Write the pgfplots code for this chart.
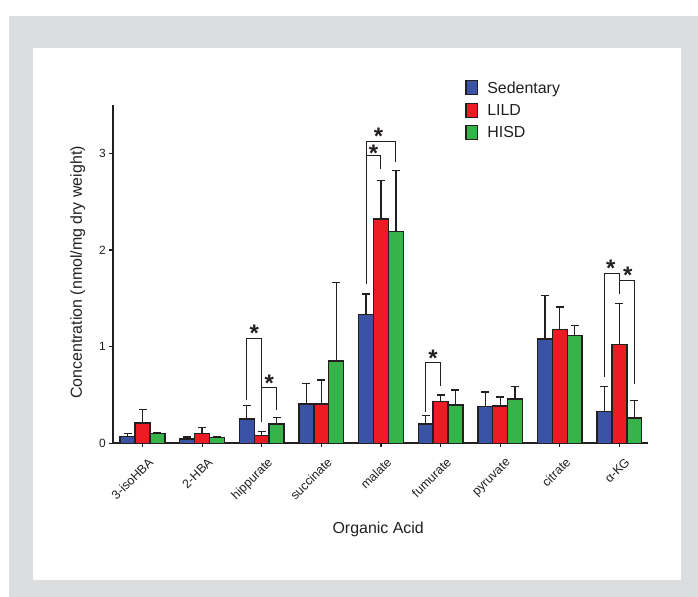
\documentclass[border=0pt]{standalone}
\usepackage{fontspec}
\setmainfont{Liberation Sans}
\usepackage{pgfplots}
\pgfplotsset{compat=1.18}
\usepackage{pgfplotstable}

\definecolor{sedblue}{HTML}{3A53A4}
\definecolor{lildred}{HTML}{ED1C24}
\definecolor{hisdgreen}{HTML}{36B44A}
\definecolor{framegray}{HTML}{DCDDDF}
\definecolor{ink}{HTML}{231F20}

\pgfplotstableread{
x sed sedE lild lildE hisd hisdE
0 0.070 0.030 0.210 0.140 0.100 0.012
1 0.045 0.020 0.100 0.060 0.058 0.008
2 0.250 0.140 0.080 0.040 0.200 0.070
3 0.407 0.213 0.407 0.248 0.851 0.810
4 1.330 0.215 2.320 0.400 2.190 0.630
5 0.200 0.090 0.430 0.070 0.395 0.155
6 0.380 0.150 0.385 0.095 0.460 0.125
7 1.080 0.447 1.175 0.235 1.113 0.103
8 0.330 0.260 1.020 0.425 0.260 0.180
}\data

\begin{document}
\begin{tikzpicture}
\useasboundingbox (0bp,0bp) rectangle (698bp,597bp);
\fill[framegray] (9bp,0bp) rectangle (698bp,581bp);
\fill[white] (33bp,17bp) rectangle (681bp,549bp);
\begin{axis}[
  at={(112.7bp,153.7bp)}, anchor=south west,
  scale only axis, width=535.3bp, height=338.3bp,
  xmin=-0.5, xmax=8.48, ymin=0, ymax=3.5,
  axis x line*=bottom, axis y line*=left,
  axis line style={line width=1.6bp, ink},
  ybar=0pt, bar width=14.9bp,
  legend image code/.code={\draw[#1, line width=1.3bp] (0bp,-6.7bp) rectangle (11.6bp,7.3bp);},
  xtick={0,...,8},
  xticklabels={3-isoHBA, 2-HBA, hippurate, succinate, malate, fumurate, pyruvate, citrate, α-KG},
  ytick={0,1,2,3},
  tick style={line width=1.2bp, ink}, major tick length=3.5bp, tick align=outside,
  /pgf/number format/assume math mode=true,
  xticklabel style={xshift=5bp, yshift=-10bp, rotate=45, anchor=north east, font=\fontsize{12.5}{12.5}\selectfont, text=ink, inner sep=0bp},
  yticklabel style={font=\fontsize{12}{12}\selectfont, text=ink},
  xlabel={Organic Acid}, ylabel={Concentration (nmol/mg dry weight)},
  label style={font=\fontsize{16}{16}\selectfont, text=ink},
  xlabel style={at={(axis description cs:0.496,0)}, anchor=center, yshift=-86bp},
  ylabel style={at={(axis description cs:0,0.505)}, anchor=center, yshift=35bp},
  legend style={at={(axis cs:5.417,3.758)}, anchor=north west, draw=none, fill=none,
    font=\fontsize{16}{16}\selectfont, text=ink, inner sep=0pt, outer sep=0pt,
    nodes={inner sep=1bp}, row sep=7bp,
    /tikz/every odd column/.append style={column sep=8bp}},
  legend cell align=left,
  clip=false,
]
\addplot[fill=sedblue, draw=ink, line width=1.4bp,
  error bars/.cd, y dir=plus, y explicit,
  error bar style={line width=1.3bp, ink},
  error mark options={rotate=90, line width=1.3bp, ink, mark size=4bp}]
  table[x=x, y=sed, y error=sedE] {\data};
\addplot[fill=lildred, draw=ink, line width=1.4bp,
  error bars/.cd, y dir=plus, y explicit,
  error bar style={line width=1.3bp, ink},
  error mark options={rotate=90, line width=1.3bp, ink, mark size=4bp}]
  table[x=x, y=lild, y error=lildE] {\data};
\addplot[fill=hisdgreen, draw=ink, line width=1.4bp,
  error bars/.cd, y dir=plus, y explicit,
  error bar style={line width=1.3bp, ink},
  error mark options={rotate=90, line width=1.3bp, ink, mark size=4bp}]
  table[x=x, y=hisd, y error=hisdE] {\data};
\legend{Sedentary, LILD, HISD}

% significance brackets
\begin{scope}[ink, line width=1bp]
\draw (axis cs:1.75,0.448) |- (axis cs:2.0,1.089) -- (axis cs:2.0,0.223);
\draw (axis cs:2.0,0.582) -| (axis cs:2.25,0.345);
\draw (axis cs:3.75,1.648) |- (axis cs:4.25,3.124) -- (axis cs:4.25,2.907);
\draw (axis cs:3.75,2.975) -| (axis cs:4.0,2.84);
\draw (axis cs:4.75,0.324) |- (axis cs:5.0,0.841) -- (axis cs:5.0,0.593);
\draw (axis cs:7.75,0.689) |- (axis cs:8.0,1.754) -- (axis cs:8.0,1.541);
\draw (axis cs:8.0,1.689) -| (axis cs:8.25,0.613);
\end{scope}
\begin{scope}[every node/.style={font=\fontsize{24}{24}\selectfont\bfseries, text=ink, inner sep=0pt, anchor=north}]
\node at (axis cs:1.875,1.224) {*};
\node at (axis cs:2.125,0.71) {*};
\node at (axis cs:3.875,3.085) {*};
\node at (axis cs:3.96,3.265) {*};
\node at (axis cs:4.875,0.965) {*};
\node at (axis cs:7.855,1.895) {*};
\node at (axis cs:8.14,1.83) {*};
\end{scope}
\end{axis}
\end{tikzpicture}
\end{document}
